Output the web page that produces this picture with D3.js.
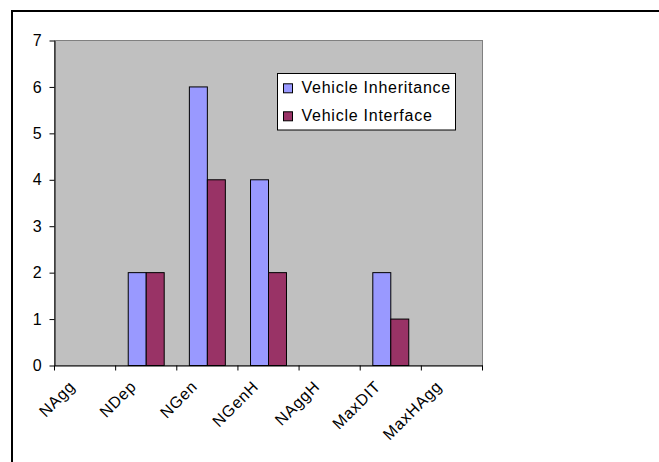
<!DOCTYPE html>
<html>
<head>
<meta charset="utf-8">
<script src="https://cdn.jsdelivr.net/npm/d3@7"></script>
<style>
  html, body { margin: 0; padding: 0; background: #fff; }
  svg { display: block; }
  text { font-family: "Liberation Sans", Arial, sans-serif; letter-spacing: 0.75px; }
</style>
</head>
<body>
<svg id="chart" width="659" height="462"></svg>
<script>
const categories = ["NAgg", "NDep", "NGen", "NGenH", "NAggH", "MaxDIT", "MaxHAgg"];
const seriesNames = ["Vehicle Inheritance", "Vehicle Interface"];
const inheritance = [0, 2, 6, 4, 0, 2, 0];
const interfaceVals = [0, 2, 4, 2, 0, 1, 0];
const yTicks = [0, 1, 2, 3, 4, 5, 6, 7];
const colors = ["#9999FF", "#993366"];

const svg = d3.select("#chart");
const W = 659, H = 462;
const plot = { left: 54.5, top: 40.5, right: 482.5, bottom: 365.5 };

// outer frame
svg.append("rect")
  .attr("x", 12).attr("y", 11)
  .attr("width", W + 20).attr("height", H + 20)
  .attr("fill", "#fff").attr("stroke", "#000").attr("stroke-width", 2);

const x0 = d3.scaleBand().domain(categories).range([plot.left, plot.right]).padding(0);
const x1 = d3.scaleBand().domain(seriesNames).range([0, x0.bandwidth()]).paddingInner(0).paddingOuter(0.7);
const y = d3.scaleLinear().domain([0, 7]).range([plot.bottom, plot.top]);

// plot area
svg.append("rect")
  .attr("x", plot.left).attr("y", plot.top)
  .attr("width", plot.right - plot.left).attr("height", plot.bottom - plot.top)
  .attr("fill", "#C0C0C0").attr("stroke", "#808080").attr("stroke-width", 1);

// bars
const data = categories.map((c, i) => ({ c, vals: [inheritance[i], interfaceVals[i]] }));
const groups = svg.append("g").selectAll("g").data(data).join("g")
  .attr("transform", d => `translate(${x0(d.c)},0)`);
groups.selectAll("rect")
  .data(d => d.vals.map((v, k) => ({ v, k })).filter(e => e.v > 0))
  .join("rect")
  .attr("x", e => x1(seriesNames[e.k]))
  .attr("y", e => y(e.v))
  .attr("width", x1.bandwidth())
  .attr("height", e => y(0) - y(e.v))
  .attr("fill", e => colors[e.k])
  .attr("stroke", "#000").attr("stroke-width", 1);

// y axis
const yAxis = svg.append("g")
  .attr("transform", `translate(${plot.left},0)`)
  .call(d3.axisLeft(y).tickValues(yTicks).tickFormat(d3.format("d")).tickSize(5).tickPadding(7).tickSizeOuter(0));
yAxis.select(".domain").attr("stroke", "#000");
yAxis.selectAll("text").attr("font-size", 16).attr("fill", "#000")
  .attr("font-family", "'Liberation Sans', Arial, sans-serif");

// x axis
const xAxis = svg.append("g")
  .attr("transform", `translate(0,${plot.bottom})`)
  .call(d3.axisBottom(x0).tickSize(0).tickSizeOuter(0).tickPadding(0));
xAxis.select(".domain").attr("stroke", "#000");
xAxis.selectAll(".tick text")
  .attr("font-size", 16).attr("fill", "#000")
  .attr("font-family", "'Liberation Sans', Arial, sans-serif")
  .attr("text-anchor", "end")
  .attr("dy", null)
  .attr("transform", "translate(-9,22) rotate(-45)");

// boundary ticks
const bounds = categories.map(c => x0(c)).concat([plot.right]);
xAxis.selectAll(".btick").data(bounds).join("line")
  .attr("class", "btick")
  .attr("x1", d => d).attr("x2", d => d)
  .attr("y1", 0).attr("y2", 5)
  .attr("stroke", "#000");

// legend
const lg = svg.append("g");
lg.append("rect")
  .attr("x", 277.5).attr("y", 73.5).attr("width", 178).attr("height", 56.5)
  .attr("fill", "#fff").attr("stroke", "#000").attr("stroke-width", 1);
seriesNames.forEach((s, i) => {
  const by = 93.3 + i * 28;
  lg.append("rect")
    .attr("x", 283.5).attr("y", by - 9.5).attr("width", 9).attr("height", 9)
    .attr("fill", colors[i]).attr("stroke", "#000").attr("stroke-width", 1);
  lg.append("text")
    .attr("x", 301.5).attr("y", by)
    .attr("font-size", 16).attr("fill", "#000")
    .text(s);
});
</script>
</body>
</html>
